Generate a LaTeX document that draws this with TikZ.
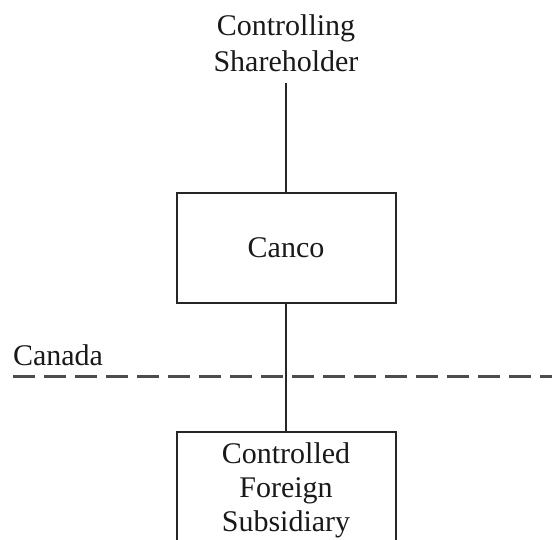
\documentclass[tikz,border=0pt]{standalone}
\usepackage{fontspec}
\setmainfont{Liberation Serif}
\usetikzlibrary{positioning}

\begin{document}
\begin{tikzpicture}[x=1pt, y=-1pt, line width=2pt, draw=black!85]
                    \tikzset{entity/.style={draw, line width=2pt, minimum width=219pt, align=center, inner sep=0pt},
                        label text/.style={font=\fontsize{30}{35}\selectfont, text=black!90, align=center, inner sep=0pt},
                        link/.style={line width=2pt, black!85},
                        border/.style={line width=3pt, black!70, dash pattern=on 22pt off 9pt}}
                    \useasboundingbox (0,0) rectangle (552,540);
                    \clip (0,0) rectangle (552,540);
                    \node[label text, anchor=north] (owner) at (286,14) {Controlling\\[1pt] Shareholder}; %top
                    \node[entity, label text, minimum height=110pt] (canco) at (286,248) {Canco};
                    \node[label text, anchor=base west] (canada) at (12,365) {Canada};
                    \coordinate (borderL) at (13,376);
                    \coordinate (borderR) at (552,376);
                    \draw[border] (borderL) -- (borderR); %border line
                    \node[entity, label text, minimum height=116pt, anchor=north] (cfs) at (286,431) {Controlled\\[-1pt] Foreign\\[-1pt] Subsidiary}; %cut off
                    \draw[link, shorten <=10pt] (owner.south) -- (canco.north);
                    \draw[link] (canco.south) -- (cfs.north);
                \end{tikzpicture}
\end{document}
